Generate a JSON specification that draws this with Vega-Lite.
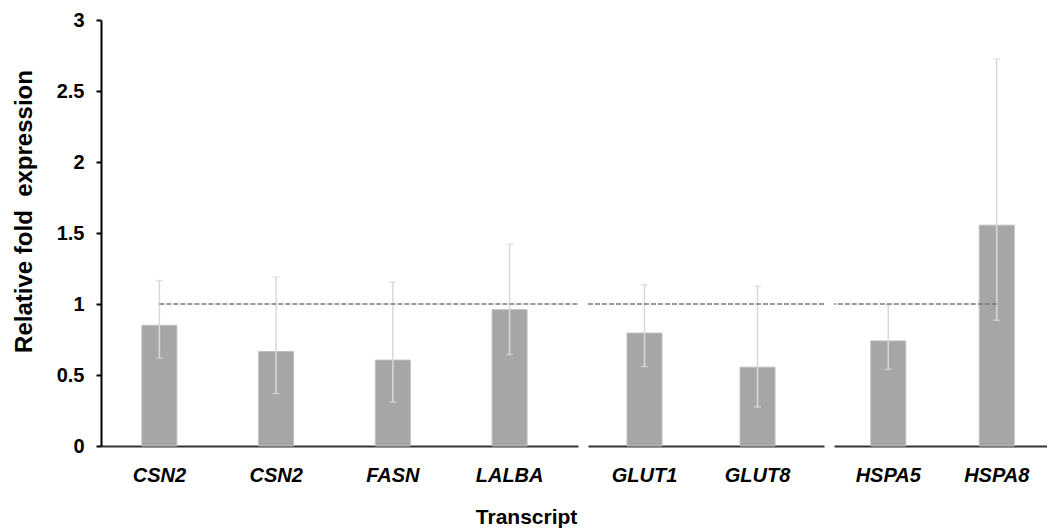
{
  "$schema": "https://vega.github.io/schema/vega-lite/v6.json",
  "padding": {"left": 12, "top": 10, "right": 0, "bottom": 2},
  "background": "white",
  "config": {
    "view": {"stroke": null},
    "font": "Liberation Sans",
    "axis": {"grid": false}
  },
  "datasets": {
    "expr": [
      {"key": "1|CSN2", "group": 1, "fold": 0.85, "lo": 0.62, "hi": 1.165},
      {"key": "2|CSN2", "group": 1, "fold": 0.665, "lo": 0.37, "hi": 1.19},
      {"key": "3|FASN", "group": 1, "fold": 0.605, "lo": 0.31, "hi": 1.155},
      {"key": "4|LALBA", "group": 1, "fold": 0.96, "lo": 0.645, "hi": 1.42},
      {"key": "5|GLUT1", "group": 2, "fold": 0.795, "lo": 0.56, "hi": 1.135},
      {"key": "6|GLUT8", "group": 2, "fold": 0.555, "lo": 0.275, "hi": 1.125},
      {"key": "7|HSPA5", "group": 3, "fold": 0.74, "lo": 0.54, "hi": 0.995},
      {"key": "8|HSPA8", "group": 3, "fold": 1.555, "lo": 0.885, "hi": 2.725}
    ]
  },
  "title": {
    "text": "Transcript",
    "orient": "bottom",
    "anchor": "middle",
    "frame": "bounds",
    "fontSize": 21,
    "fontWeight": "bold",
    "color": "black",
    "offset": 22,
    "dx": -5
  },
  "spacing": 8,
  "resolve": {"scale": {"x": "independent"}},
  "hconcat": [
    {
      "width": 477,
      "height": 426,
      "encoding": {
        "x": {
          "field": "key", "type": "nominal", "sort": null,
          "scale": {"paddingInner": 0, "paddingOuter": 0.043, "align": 0},
          "axis": {"title": null, "labelExpr": "split(datum.label, '|')[1]", "labelAngle": 0, "labelFontStyle": "italic", "labelFontWeight": "bold", "labelFontSize": 20, "labelColor": "black", "ticks": false, "labelPadding": 19, "domainColor": "#333333", "domainWidth": 2}
        }
      },
      "layer": [
        {
          "data": {"name": "expr"},
          "transform": [{"filter": "datum.group === 1"}],
          "mark": {"type": "bar", "size": 35, "color": "#a6a6a6", "stroke": "#bdbdbd", "strokeWidth": 1},
          "encoding": {
            "y": {
              "field": "fold", "type": "quantitative",
              "scale": {"domain": [0, 3], "nice": false},
              "axis": {"title": "Relative fold\u00a0 expression", "values": [0, 0.5, 1, 1.5, 2, 2.5, 3], "format": "~g", "labelFontWeight": "bold", "labelFontSize": 20, "labelColor": "black", "labelPadding": 12, "tickColor": "black", "tickSize": 5, "tickWidth": 2, "domainColor": "black", "domainWidth": 2, "titleFont": "Liberation Sans", "titleFontSize": 24, "titleFontWeight": "bold", "titleColor": "black", "titlePadding": 20, "titleY": 191}
            }
          }
        },
        {
          "data": {"name": "expr"},
          "transform": [{"filter": "datum.group === 1"}],
          "mark": {"type": "rule", "color": "#d9d9d9", "strokeWidth": 1.5},
          "encoding": {"y": {"field": "lo", "type": "quantitative"}, "y2": {"field": "hi"}}
        },
        {
          "data": {"name": "expr"},
          "transform": [{"filter": "datum.group === 1"}],
          "mark": {"type": "tick", "color": "#d9d9d9", "size": 7, "thickness": 1.5},
          "encoding": {"y": {"field": "lo", "type": "quantitative"}}
        },
        {
          "data": {"name": "expr"},
          "transform": [{"filter": "datum.group === 1"}],
          "mark": {"type": "tick", "color": "#d9d9d9", "size": 7, "thickness": 1.5},
          "encoding": {"y": {"field": "hi", "type": "quantitative"}}
        },
        {
          "data": {"values": [{}]},
          "mark": {"type": "rule", "color": "#7a7a7a", "strokeWidth": 1.5, "strokeDash": [5, 2]},
          "encoding": {"x": {"datum": "1|CSN2", "type": "nominal"}, "x2": {"value": "width"}, "y": {"datum": 1, "type": "quantitative"}}
        }
      ]
    },
    {
      "width": 236,
      "height": 426,
      "encoding": {
        "x": {
          "field": "key", "type": "nominal", "sort": null,
          "scale": {"paddingInner": 0, "paddingOuter": 0.044, "align": 0},
          "axis": {"title": null, "labelExpr": "split(datum.label, '|')[1]", "labelAngle": 0, "labelFontStyle": "italic", "labelFontWeight": "bold", "labelFontSize": 20, "labelColor": "black", "ticks": false, "labelPadding": 19, "domainColor": "#333333", "domainWidth": 2}
        }
      },
      "layer": [
        {
          "data": {"name": "expr"},
          "transform": [{"filter": "datum.group === 2"}],
          "mark": {"type": "bar", "size": 35, "color": "#a6a6a6", "stroke": "#bdbdbd", "strokeWidth": 1},
          "encoding": {"y": {"field": "fold", "type": "quantitative", "scale": {"domain": [0, 3], "nice": false}, "axis": null}}
        },
        {
          "data": {"name": "expr"},
          "transform": [{"filter": "datum.group === 2"}],
          "mark": {"type": "rule", "color": "#d9d9d9", "strokeWidth": 1.5},
          "encoding": {"y": {"field": "lo", "type": "quantitative"}, "y2": {"field": "hi"}}
        },
        {
          "data": {"name": "expr"},
          "transform": [{"filter": "datum.group === 2"}],
          "mark": {"type": "tick", "color": "#d9d9d9", "size": 7, "thickness": 1.5},
          "encoding": {"y": {"field": "lo", "type": "quantitative"}}
        },
        {
          "data": {"name": "expr"},
          "transform": [{"filter": "datum.group === 2"}],
          "mark": {"type": "tick", "color": "#d9d9d9", "size": 7, "thickness": 1.5},
          "encoding": {"y": {"field": "hi", "type": "quantitative"}}
        },
        {
          "data": {"values": [{}]},
          "mark": {"type": "rule", "color": "#7a7a7a", "strokeWidth": 1.5, "strokeDash": [5, 2]},
          "encoding": {"x": {"value": 0}, "x2": {"value": "width"}, "y": {"datum": 1, "type": "quantitative"}}
        }
      ]
    },
    {
      "width": 217,
      "height": 426,
      "encoding": {
        "x": {
          "field": "key", "type": "nominal", "sort": null,
          "scale": {"paddingInner": 0, "paddingOuter": 0, "align": 0},
          "axis": {"title": null, "labelExpr": "split(datum.label, '|')[1]", "labelAngle": 0, "labelFontStyle": "italic", "labelFontWeight": "bold", "labelFontSize": 20, "labelColor": "black", "ticks": false, "labelPadding": 19, "domainColor": "#333333", "domainWidth": 2}
        }
      },
      "layer": [
        {
          "data": {"name": "expr"},
          "transform": [{"filter": "datum.group === 3"}],
          "mark": {"type": "bar", "size": 35, "color": "#a6a6a6", "stroke": "#bdbdbd", "strokeWidth": 1},
          "encoding": {"y": {"field": "fold", "type": "quantitative", "scale": {"domain": [0, 3], "nice": false}, "axis": null}}
        },
        {
          "data": {"name": "expr"},
          "transform": [{"filter": "datum.group === 3"}],
          "mark": {"type": "rule", "color": "#d9d9d9", "strokeWidth": 1.5},
          "encoding": {"y": {"field": "lo", "type": "quantitative"}, "y2": {"field": "hi"}}
        },
        {
          "data": {"name": "expr"},
          "transform": [{"filter": "datum.group === 3"}],
          "mark": {"type": "tick", "color": "#d9d9d9", "size": 7, "thickness": 1.5},
          "encoding": {"y": {"field": "lo", "type": "quantitative"}}
        },
        {
          "data": {"name": "expr"},
          "transform": [{"filter": "datum.group === 3"}],
          "mark": {"type": "tick", "color": "#d9d9d9", "size": 7, "thickness": 1.5},
          "encoding": {"y": {"field": "hi", "type": "quantitative"}}
        },
        {
          "data": {"values": [{}]},
          "mark": {"type": "rule", "color": "#7a7a7a", "strokeWidth": 1.5, "strokeDash": [5, 2]},
          "encoding": {"x": {"datum": "8|HSPA8", "type": "nominal"}, "x2": {"value": 0}, "y": {"datum": 1, "type": "quantitative"}}
        }
      ]
    }
  ]
}
